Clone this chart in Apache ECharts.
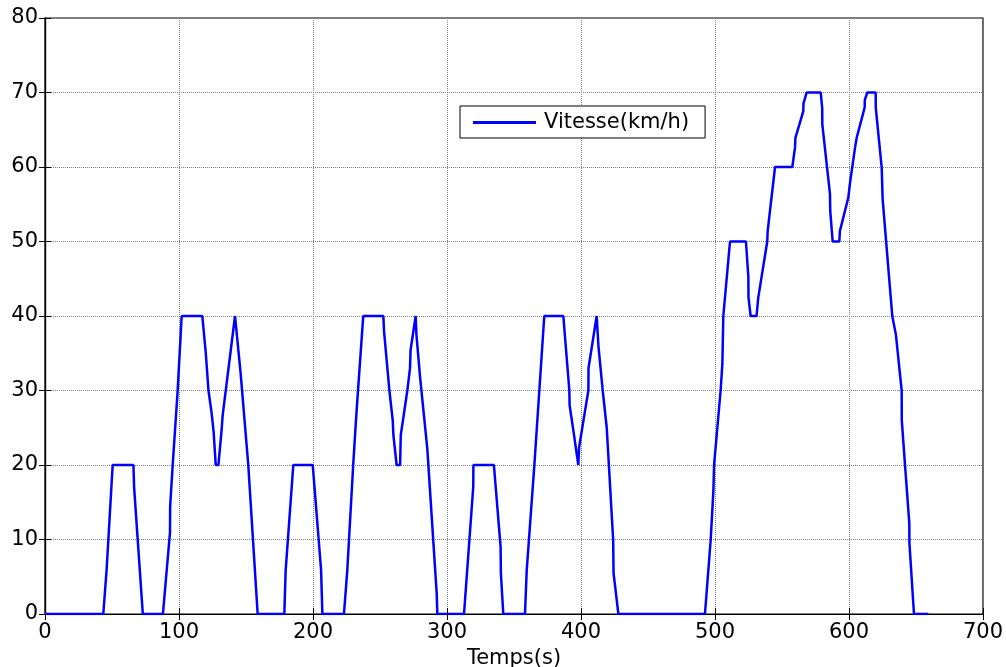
<!DOCTYPE html>
<html>
<head>
<meta charset="utf-8">
<script src="https://cdn.jsdelivr.net/npm/echarts@6/dist/echarts.min.js"></script>
<style>
    html, body { margin: 0; padding: 0; background: #fff; }
    #chartsmain { width: 1006px; height: 667px; }
</style>
</head>
<body>
<div id="chartsmain"></div>

<script>
    // temps (s) et vitesse (km/h)
    var temps = [0, 43.5, 46, 50.5, 66, 66.5, 73, 88, 93.3, 93.4, 95.3, 99, 102, 117.4, 120, 122, 124.4,
        125.9, 127.4, 129.4, 131.8, 132.6, 141.8, 146, 151.7, 158.7, 178.6, 179.6, 185.3, 199.8, 206,
        207, 223.1, 225.6, 230, 232, 233, 237.5, 252.5, 253, 257, 259.5, 260, 262.4, 265, 265.5, 270.4,
        272.4, 272.8, 276.6, 277.2, 279.9, 285.3, 292.3, 292.8, 312.7, 319.6, 319.7, 335, 340, 340.2,
        342, 358.2, 359.5, 365.2, 372.6, 386.8, 391.3, 391.5, 394, 398, 398.6, 405.5, 405.6, 411.7,
        413, 416.2, 419.2, 424, 424.3, 427.9, 492.5, 496.8, 498.8, 499.3, 504.2, 505.5, 506.2, 511.2,
        523.1, 524.9, 525, 526.6, 531, 532.3, 539, 539.3, 544.8, 546, 557.7, 559.7, 560, 565.9, 566,
        568.4, 578.9, 580, 580.1, 585.8, 586, 587.8, 592.8, 593.2, 599.5, 600.7, 604.5, 605.7, 611.7,
        611.8, 613.7, 619.9, 620, 624.4, 625.1, 632.3, 635, 639.3, 639.4, 641.8, 645, 645.1, 648.5, 659.2];
    var vitesse = [0, 0, 6, 20, 20, 17, 0, 0, 11, 14.5, 20, 30, 40, 40, 35, 30, 26.9,
        24.3, 20, 20, 24.7, 26.7, 40, 32.3, 20, 0, 0, 5.9, 20, 20, 6,
        0, 0, 5.9, 20, 25.8, 28.5, 40, 40, 38, 30, 26, 24, 20, 20, 24, 30,
        33, 35.4, 40, 37.5, 31.8, 22.2, 2.8, 0, 0, 17.1, 20, 20, 9, 5.5,
        0, 0, 5.9, 20, 40, 40, 30, 28, 25, 20, 22.4, 30, 33, 40,
        36, 30, 25, 10, 5.5, 0, 0, 10, 16.6, 20, 30, 33.6, 40, 50,
        50, 45.2, 42.5, 40, 40, 42.5, 50, 51.4, 60, 60, 60, 62.6, 63.9, 67.5, 68.5,
        70, 70, 67.9, 65.7, 56.4, 54.1, 50, 50, 51.4, 55.9, 57.8, 62.6, 63.9, 68,
        69, 70, 70, 67.9, 59.9, 55.7, 40, 37.5, 30, 26, 20, 12.2, 9.5, 0, 0];

    var xTicks = [0, 100, 200, 300, 400, 500, 600, 700];
    var yTicks = [0, 10, 20, 30, 40, 50, 60, 70, 80];

    var points = [];
    for (var i = 0; i < temps.length; i++) {
        points.push([temps[i], vitesse[i]]);
    }

    var police = 'DejaVu Sans, Liberation Sans, sans-serif';
    var grille = { show: true, lineStyle: { color: '#7f7f7f', type: [1, 1], width: 1 } };
    var trait = { show: true, lineStyle: { color: '#000', width: 1.2 } };
    var tick = { show: true, inside: true, length: 6, lineStyle: { color: '#000' } };

    var vitessechart = echarts.init(document.getElementById('chartsmain'));

    var option = {
        animation: false,
        backgroundColor: '#fff',
        grid: {
            left: 45, right: 23, top: 18, bottom: 53,
            outerBoundsMode: 'none',
            show: true, borderColor: '#000', borderWidth: 1.2, backgroundColor: '#fff'
        },
        legend: {
            left: 460, top: 106,
            padding: [6, 16, 5, 13],
            backgroundColor: '#fff',
            borderColor: '#000',
            borderWidth: 1,
            borderRadius: 0,
            icon: 'rect',
            itemWidth: 63, itemHeight: 3,
            textStyle: { fontFamily: police, fontSize: 21, color: '#000', padding: [0, 0, 0, 3] },
            data: ['Vitesse(km/h)']
        },
        xAxis: [
            {
                type: 'value', min: 0, max: 700, interval: 100,
                name: 'Temps(s)', nameLocation: 'middle', nameGap: 33,
                nameTextStyle: { fontFamily: police, fontSize: 21, color: '#000' },
                axisLine: trait,
                axisTick: tick,
                axisLabel: {
                    margin: 8, fontFamily: police, fontSize: 21, color: '#000',
                    customValues: xTicks
                },
                splitLine: grille
            },
            {
                type: 'value', min: 0, max: 700, interval: 100, position: 'top',
                axisLine: trait,
                axisTick: tick,
                axisLabel: { show: false },
                splitLine: { show: false }
            }
        ],
        yAxis: [
            {
                type: 'value', min: 0, max: 80, interval: 10,
                axisLine: trait,
                axisTick: tick,
                axisLabel: {
                    margin: 7, fontFamily: police, fontSize: 21, color: '#000',
                    customValues: yTicks
                },
                splitLine: grille
            },
            {
                type: 'value', min: 0, max: 80, interval: 10, position: 'right',
                axisLine: trait,
                axisTick: tick,
                axisLabel: { show: false },
                splitLine: { show: false }
            }
        ],
        series: [
            {
                name: 'Vitesse(km/h)',
                type: 'line',
                xAxisIndex: 0, yAxisIndex: 0,
                symbol: 'none',
                lineStyle: { color: '#0000ff', width: 2.5 },
                itemStyle: { color: '#0000ff' },
                data: points
            }
        ]
    };
    vitessechart.setOption(option);
</script>
</body>
</html>
